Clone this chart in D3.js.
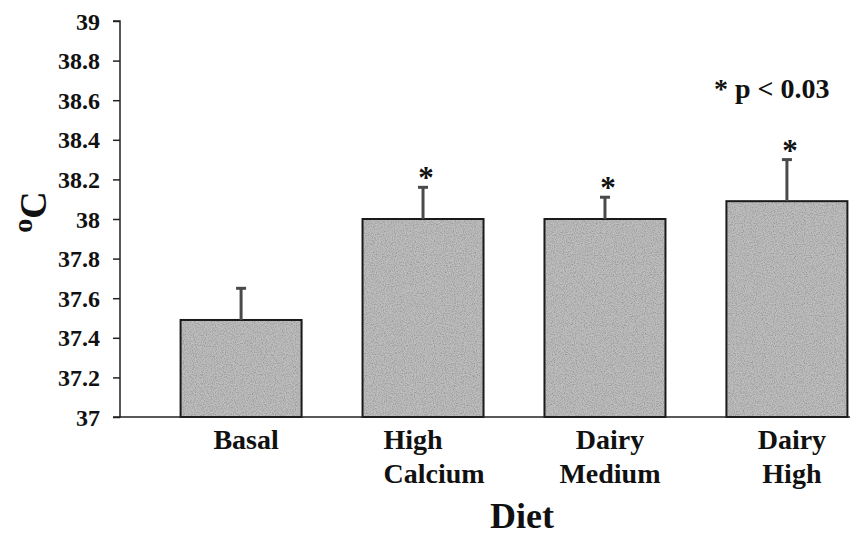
<!DOCTYPE html>
<html>
<head>
<meta charset="utf-8">
<script src="https://cdn.jsdelivr.net/npm/d3@7"></script>
<style>
  body { margin: 0; background: #fff; }
  svg text { font-family: "Liberation Serif", Times, "DejaVu Serif", serif !important; font-weight: bold; fill: #111; }
</style>
</head>
<body>
<div id="chart"></div>
<script>
// diet groups and body temperature (deg C)
var diets = ["Basal", "High Calcium", "Dairy Medium", "Dairy High"];
var labelLines = [["Basal"], ["High", "Calcium"], ["Dairy", "Medium"], ["Dairy", "High"]];
var temps = [37.49, 38.0, 38.0, 38.09];
var errors = [0.16, 0.16, 0.11, 0.21];
var significant = [false, true, true, true];
var yTicks = [37, 37.2, 37.4, 37.6, 37.8, 38, 38.2, 38.4, 38.6, 38.8, 39];

var width = 850, height = 537;
var serif = "'Liberation Serif', Times, 'DejaVu Serif', serif";

var svg = d3.select("#chart").append("svg")
  .attr("width", width)
  .attr("height", height)
  .attr("font-family", serif);

// grainy fill like the scanned original
var defs = svg.append("defs");
var grain = defs.append("filter").attr("id", "grain")
  .attr("x", 0).attr("y", 0).attr("width", 1).attr("height", 1);
grain.append("feTurbulence").attr("type", "fractalNoise")
  .attr("baseFrequency", 0.9).attr("numOctaves", 2).attr("seed", 3).attr("result", "noise");
grain.append("feColorMatrix").attr("in", "noise").attr("type", "matrix")
  .attr("values", "0 0 0 0 0  0 0 0 0 0  0 0 0 0 0  0 0 0 -0.9 0.55").attr("result", "dots");
grain.append("feComposite").attr("in", "dots").attr("in2", "SourceGraphic").attr("operator", "in").attr("result", "clipped");
grain.append("feMerge").selectAll("feMergeNode")
  .data(["SourceGraphic", "clipped"]).enter().append("feMergeNode").attr("in", function(d) { return d; });

var x = d3.scaleBand()
  .domain(diets)
  .range([120, 908])
  .paddingInner(0.335)
  .paddingOuter(0.333);

var y = d3.scaleLinear()
  .domain([37, 39])
  .range([417, 21]);

function mid(d) { return x(d) + x.bandwidth() / 2; }

// bars
var bars = svg.append("g");
bars.selectAll("rect.fillbar")
  .data(diets)
  .enter().append("rect")
  .attr("class", "fillbar")
  .attr("x", function(d) { return x(d); })
  .attr("y", function(d, i) { return y(temps[i]); })
  .attr("width", x.bandwidth())
  .attr("height", function(d, i) { return y(37) - y(temps[i]); })
  .style("fill", "#bebebe")
  .attr("filter", "url(#grain)");

bars.selectAll("rect.edge")
  .data(diets)
  .enter().append("rect")
  .attr("class", "edge")
  .attr("x", function(d) { return x(d); })
  .attr("y", function(d, i) { return y(temps[i]); })
  .attr("width", x.bandwidth())
  .attr("height", function(d, i) { return y(37) - y(temps[i]); })
  .style("fill", "none")
  .style("stroke", "#1a1a1a")
  .style("stroke-width", 2);

// error bars (upper only)
var err = svg.append("g").style("stroke", "#4a4a4a");
err.selectAll("line.stem")
  .data(diets)
  .enter().append("line")
  .attr("x1", mid)
  .attr("x2", mid)
  .attr("y1", function(d, i) { return y(temps[i]); })
  .attr("y2", function(d, i) { return y(temps[i] + errors[i]); })
  .style("stroke-width", 3);
err.selectAll("line.cap")
  .data(diets)
  .enter().append("line")
  .attr("x1", function(d) { return mid(d) - 5; })
  .attr("x2", function(d) { return mid(d) + 5; })
  .attr("y1", function(d, i) { return y(temps[i] + errors[i]); })
  .attr("y2", function(d, i) { return y(temps[i] + errors[i]); })
  .style("stroke-width", 3);

// significance stars
svg.append("g").selectAll("text")
  .data(diets.filter(function(d, i) { return significant[i]; }))
  .enter().append("text")
  .attr("x", function(d) { return mid(d) + 3; })
  .attr("y", function(d) { var i = diets.indexOf(d); return y(temps[i] + errors[i]) + 1; })
  .attr("text-anchor", "middle")
  .style("font-size", "31px")
  .text("*");

// y axis
var yAxis = d3.axisLeft(y).tickValues(yTicks).tickSize(7).tickPadding(13)
  .tickFormat(function(d) { return d3.format("")(+d.toFixed(1)); });
var yg = svg.append("g").attr("transform", "translate(120,0)").call(yAxis)
  .attr("font-family", serif);
yg.select(".domain").attr("d", "M-7,21H0V417H-7").style("stroke", "#222").style("stroke-width", 1.5);
yg.selectAll(".tick line").style("stroke", "#222").style("stroke-width", 1.5);
yg.selectAll(".tick text")
  .attr("dy", "0.34em")
  .style("font-size", "24px")
  .style("fill", "#111");

// x axis baseline
svg.append("line")
  .attr("x1", 120).attr("x2", 850)
  .attr("y1", y(37)).attr("y2", y(37))
  .style("stroke", "#222").style("stroke-width", 1.5);

// category labels (the two-line "High Calcium" label is left-aligned in the original)
var cat = svg.append("g").selectAll("text")
  .data(diets)
  .enter().append("text")
  .attr("text-anchor", function(d) { return d === "High Calcium" ? "start" : "middle"; })
  .style("font-size", "28px");
cat.selectAll("tspan")
  .data(function(d, i) { return labelLines[i].map(function(l) { return { line: l, d: d }; }); })
  .enter().append("tspan")
  .attr("x", function(t) {
    return t.d === "High Calcium" ? x(t.d) + 21 : mid(t.d) + 5;
  })
  .attr("y", function(t, j) { return 449 + j * 34; })
  .text(function(t) { return t.line; });

// axis titles
svg.append("text")
  .attr("x", 522).attr("y", 528)
  .attr("text-anchor", "middle")
  .style("font-size", "36px")
  .text("Diet");

var yt = svg.append("text")
  .attr("transform", "translate(42,212) rotate(-90)")
  .attr("text-anchor", "middle")
  .style("font-size", "38px");
yt.append("tspan").attr("dy", "-0.37em").style("font-size", "28px").text("o");
yt.append("tspan").attr("dy", "0.37em").text("C");

// p-value note
svg.append("text")
  .attr("x", 714).attr("y", 98)
  .style("font-size", "28px")
  .text("* p < 0.03");
</script>
</body>
</html>
